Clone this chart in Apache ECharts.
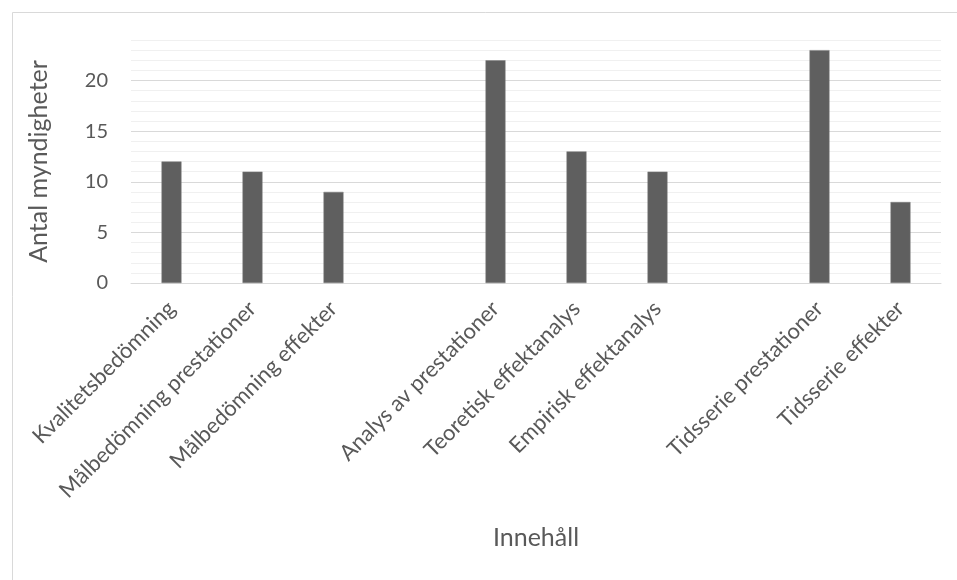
<!DOCTYPE html>
<html>
<head>
<meta charset="utf-8">
<script src="https://cdn.jsdelivr.net/npm/echarts@6/dist/echarts.min.js"></script>
<style>html,body{margin:0;padding:0;background:#fff}#c{width:957px;height:580px}</style>
</head>
<body>
<div id="c"></div>
<script>
const categories = ["Kvalitetsbedömning", "Målbedömning prestationer", "Målbedömning effekter", "", "Analys av prestationer", "Teoretisk effektanalys", "Empirisk effektanalys", "", "Tidsserie prestationer", "Tidsserie effekter"];
const values = [12, 11, 9, null, 22, 13, 11, null, 23, 8];
const yMin = 0, yMax = 24, yMinorStep = 1, yLabelStep = 5;
const yName = "Antal myndigheter";
const xName = "Innehåll";

const font = "Lato, 'Open Sans', sans-serif";
const chart = echarts.init(document.getElementById('c'), null, {renderer: 'canvas'});
chart.setOption({
  animation: false,
  backgroundColor: '#fff',
  graphic: [{
    type: 'rect', left: 10, top: 10, silent: true,
    shape: {width: 1200, height: 1000},
    style: {fill: 'none', stroke: '#d9d9d9', lineWidth: 1}
  }],
  grid: {left: 131, right: 16, top: 40, bottom: 297, containLabel: false},
  xAxis: {
    type: 'category', data: categories,
    name: xName, nameLocation: 'middle', nameGap: 242,
    nameTextStyle: {fontFamily: font, fontSize: 25, color: '#595959'},
    axisLine: {lineStyle: {color: '#d9d9d9', width: 1}},
    axisTick: {show: false},
    axisLabel: {interval: 0, rotate: 45, margin: 22, fontFamily: font, fontSize: 22, color: '#595959'}
  },
  yAxis: {
    type: 'value', min: yMin, max: yMax, interval: yMinorStep,
    name: yName, nameLocation: 'middle', nameGap: 80, nameRotate: 90,
    nameTextStyle: {fontFamily: font, fontSize: 25, color: '#595959'},
    axisLine: {show: false}, axisTick: {show: false},
    axisLabel: {
      margin: 23, fontFamily: font, fontSize: 20, color: '#595959',
      formatter: v => (v % yLabelStep === 0 ? String(v) : '')
    },
    splitLine: {lineStyle: {color: ['#d9d9d9', '#f0f0f0', '#f0f0f0', '#f0f0f0', '#f0f0f0'], width: 1}}
  },
  series: [{
    type: 'bar', data: values, barWidth: 20,
    itemStyle: {color: '#5f5f5f', borderColor: '#7f7f7f', borderWidth: 0.5}
  }]
});
</script>
</body>
</html>
